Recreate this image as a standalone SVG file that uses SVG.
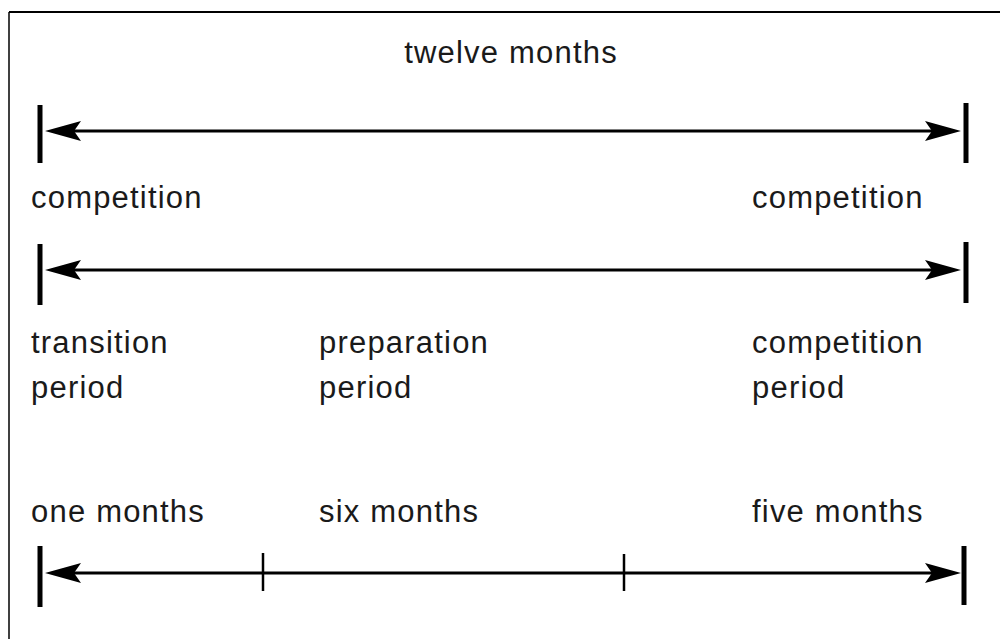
<svg xmlns="http://www.w3.org/2000/svg" width="1000" height="639" viewBox="0 0 1000 639">
<style>
.lbl{font-family:"Liberation Sans",Arial,sans-serif;font-size:31px;fill:#1a1a1a;letter-spacing:1.2px}
.axis{stroke:#000;stroke-width:3;fill:none}
.bar{stroke:#000;stroke-width:5}
.tick{stroke:#000;stroke-width:2.5}
.frame{stroke:#000;fill:none}
</style>
<defs>
<polygon id="headL" points="45,0 81,-10 74,0 81,10" fill="#000"/>
<polygon id="headR" points="961,0 925,-10 932,0 925,10" fill="#000"/>
</defs>
<rect width="1000" height="639" fill="#fff"/>
<g id="frame">
<line class="frame" x1="9" y1="12" x2="1000" y2="12" stroke-width="2"/>
<line class="frame" x1="9" y1="12" x2="9" y2="639" stroke-width="1.5"/>
</g>
<g id="connectors">
<line class="axis" x1="60" y1="131" x2="945" y2="131"/>
<use href="#headL" y="131"/>
<use href="#headR" y="131"/>
<line class="axis" x1="60" y1="270" x2="945" y2="270"/>
<use href="#headL" y="270"/>
<use href="#headR" y="270"/>
<line class="axis" x1="60" y1="573" x2="945" y2="573"/>
<use href="#headL" y="573"/>
<use href="#headR" y="573"/>
</g>
<g id="bars">
<line class="bar" x1="40" y1="105" x2="40" y2="163"/>
<line class="bar" x1="966" y1="103" x2="966" y2="163"/>
<line class="bar" x1="40" y1="244" x2="40" y2="305"/>
<line class="bar" x1="966" y1="242" x2="966" y2="303"/>
<line class="bar" x1="40" y1="546" x2="40" y2="607"/>
<line class="bar" x1="964" y1="546" x2="964" y2="605"/>
<line class="tick" x1="263" y1="553" x2="263" y2="591"/>
<line class="tick" x1="624" y1="554" x2="624" y2="591"/>
</g>
<g id="label-twelve"><text class="lbl" x="511" y="63" text-anchor="middle">twelve months</text></g>
<g id="label-comp-left"><text class="lbl" x="31" y="208">competition</text></g>
<g id="label-comp-right"><text class="lbl" x="752" y="208">competition</text></g>
<g id="label-transition"><text class="lbl" x="31" y="353">transition</text><text class="lbl" x="31" y="398">period</text></g>
<g id="label-preparation"><text class="lbl" x="319" y="353">preparation</text><text class="lbl" x="319" y="398">period</text></g>
<g id="label-competition"><text class="lbl" x="752" y="353">competition</text><text class="lbl" x="752" y="398">period</text></g>
<g id="label-one"><text class="lbl" x="31" y="522">one months</text></g>
<g id="label-six"><text class="lbl" x="319" y="522">six months</text></g>
<g id="label-five"><text class="lbl" x="752" y="522">five months</text></g>
</svg>
